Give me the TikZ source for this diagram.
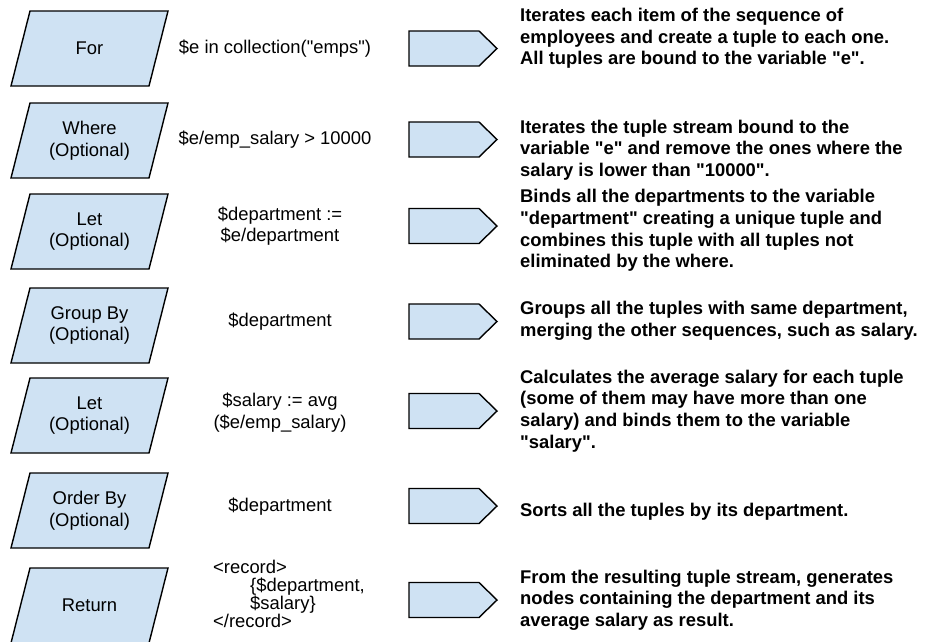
\documentclass[tikz,border=0pt]{standalone}
\usepackage{fontspec}
\setmainfont{Liberation Sans}[Ligatures=TeXOff]
\definecolor{boxblue}{HTML}{CFE2F3}
\tikzset{
  stage/.style={draw=black, line width=1.4pt, fill=boxblue, line join=miter},
  lbl/.style={font=\fontsize{18.4}{21.7}\selectfont, align=center, inner sep=0pt},
  expr/.style={font=\fontsize{18.4}{21.7}\selectfont, align=center, inner sep=0pt},
  desc/.style={font=\fontsize{18.4}{21.7}\selectfont\bfseries, align=left, anchor=west, inner sep=0pt},
}
\begin{document}
\begin{tikzpicture}[x=1pt,y=-1pt]
\useasboundingbox (0,0) rectangle (926,641);

% clause parallelograms
\foreach \t/\txt [count=\i] in {11/For, 103/{Where\\(Optional)}, 194/{Let\\(Optional)},
    288/{Group By\\(Optional)}, 378/{Let\\(Optional)}, 473/{Order By\\(Optional)}, 568/Return}{
  \draw[stage] (30,\t) -- (168,\t) -- (149,\t+75) -- (11,\t+75) -- cycle;
  \node[lbl] (clause\i) at (89.5,\t+37.5) {\txt};
}

% pentagon arrows
\foreach \c [count=\i] in {48.5,139.5,226,321.5,411,506,600}{
  \draw[stage] (409,\c-17.5) -- (479,\c-17.5) -- (497,\c) -- (479,\c+17.5) -- (409,\c+17.5) -- cycle;
}

% expressions
\node[expr] (e1) at (275,48.5) {\$e in collection("emps")};
\node[expr] (e2) at (275,140) {\$e/emp\_salary > 10000};
\node[expr] (e3) at (280,226) {\$department :=\\\$e/department};
\node[expr] (e4) at (280,322) {\$department};
\node[expr] (e5) at (280,412.5) {\$salary := avg\\(\$e/emp\_salary)};
\node[expr] (e6) at (280,507) {\$department};
\node[expr, align=left, anchor=west, font=\fontsize{18.4}{17.4}\selectfont] (e7) at (213,594)
  {<record>\\\hspace*{37pt}\{\$department,\\\hspace*{37pt}\$salary\}\\</record>};

% descriptions
\node[desc] (d1) at (520,38.5) {Iterates each item of the sequence of\\employees and create a tuple to each one.\\All tuples are bound to the variable "e".};
\node[desc] (d2) at (520,150) {Iterates the tuple stream bound to the\\variable "e" and remove the ones where the\\salary is lower than "10000".};
\node[desc] (d3) at (520,230.5) {Binds all the departments to the variable\\"department" creating a unique tuple and\\combines this tuple with all tuples not\\eliminated by the where.};
\node[desc] (d4) at (520,321) {Groups all the tuples with same department,\\merging the other sequences, such as salary.};
\node[desc] (d5) at (520,411) {Calculates the average salary for each tuple\\(some of them may have more than one\\salary) and binds them to the variable\\"salary".};
\node[desc] (d6) at (520,512) {Sorts all the tuples by its department.};
\node[desc] (d7) at (520,600) {From the resulting tuple stream, generates\\nodes containing the department and its\\average salary as result.};
\end{tikzpicture}
\end{document}
